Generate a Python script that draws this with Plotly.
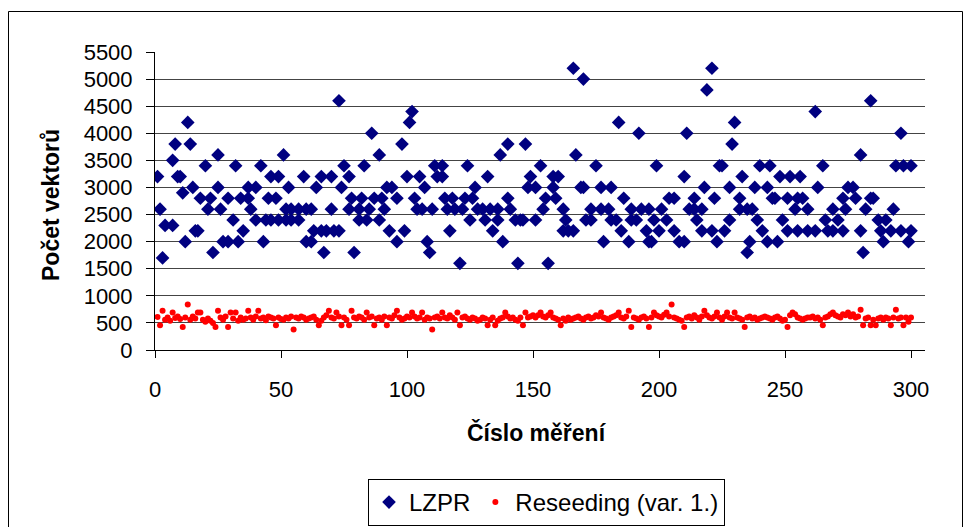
import plotly.graph_objects as go

# ---- data ----
lzpr_x = [1, 2, 3, 4, 7, 8, 7, 9, 10, 11, 12, 13, 14, 15, 16, 17, 18, 20, 21, 22,
          23, 25, 25, 26, 27, 29, 29, 31, 32, 33, 34, 35, 37, 37, 38, 40, 40, 42, 43, 44,
          45, 46, 49, 51, 48, 53, 46, 49, 52, 54, 57, 60, 62, 52, 54, 57, 59, 60, 62, 63,
          66, 68, 71, 73, 64, 66, 70, 67, 70, 73, 74, 75, 77, 78, 77, 79, 82, 81, 85, 81,
          84, 83, 86, 87, 90, 91, 89, 89, 92, 94, 93, 96, 96, 98, 99, 100, 101, 102, 103, 104,
          106, 105, 107, 108, 109, 110, 111, 114, 112, 114, 115, 118, 116, 119, 122, 117, 121, 123, 126, 124,
          125, 127, 128, 130, 133, 136, 131, 132, 134, 136, 138, 137, 140, 140, 141, 143, 145, 144, 146, 147,
          149, 148, 151, 151, 153, 155, 154, 156, 158, 158, 160, 159, 162, 163, 162, 164, 166, 166, 170, 167,
          169, 170, 171, 173, 173, 177, 180, 175, 177, 181, 178, 181, 183, 185, 184, 186, 188, 189, 193, 189,
          191, 192, 195, 196, 196, 201, 197, 198, 200, 203, 199, 204, 206, 206, 208, 210, 210, 211, 212, 214,
          214, 217, 215, 217, 218, 219, 221, 221, 222, 223, 224, 225, 226, 228, 228, 229, 230, 232, 232, 235,
          237, 233, 236, 235, 238, 239, 241, 240, 244, 243, 243, 245, 247, 246, 248, 252, 256, 249, 251, 255,
          259, 262, 251, 255, 257, 254, 259, 262, 263, 265, 266, 267, 269, 271, 273, 269, 274, 273, 278, 275,
          277, 280, 280, 281, 282, 284, 284, 285, 287, 290, 288, 292, 289, 293, 296, 300, 299, 296, 294, 297,
          300]
lzpr_y = [3200, 2600, 1700, 2300, 2300, 3800, 3500, 3200, 3200, 2900, 2000, 4200, 3800, 3000, 2200, 2200, 2800, 3400, 2600, 2800,
          1800, 3000, 3600, 2600, 2000, 2000, 2800, 2400, 3400, 2000, 2800, 2200, 3000, 2800, 2600, 3000, 2400, 3400, 2000, 2400,
          2800, 3200, 3200, 3600, 2800, 3000, 2400, 2400, 2600, 2600, 2600, 2600, 2600, 2400, 2400, 2400, 3200, 2000, 2000, 2200,
          2200, 2200, 2200, 2200, 3000, 3200, 3200, 1800, 2600, 4600, 3000, 3400, 3200, 2800, 2600, 1800, 2800, 2600, 2600, 2400,
          2400, 3400, 4000, 2800, 2800, 2600, 2400, 3600, 3000, 3000, 2200, 2000, 2800, 3800, 2200, 3200, 4200, 4400, 2800, 2600,
          2600, 3200, 3000, 2000, 1800, 2600, 3400, 3400, 3200, 3200, 2800, 2800, 2600, 2600, 2600, 2200, 1600, 2800, 2800, 3400,
          2400, 3000, 2600, 2600, 2600, 2600, 2400, 3200, 2200, 2400, 2000, 3600, 3800, 2800, 2600, 2400, 2400, 1600, 2400, 3800,
          3200, 3000, 3000, 2400, 3400, 2800, 2600, 1600, 3000, 3200, 3200, 2800, 2600, 2400, 2200, 2200, 2200, 5200, 5000, 3600,
          3000, 3000, 2400, 2400, 2600, 2600, 2600, 3400, 3000, 3000, 2000, 2400, 2400, 2200, 4200, 2800, 2000, 2600, 2600, 2400,
          2400, 4000, 2200, 2000, 2600, 2600, 2000, 2400, 2200, 2400, 3400, 2800, 2800, 2200, 2000, 2000, 3200, 4000, 2600, 2800,
          2600, 2600, 2400, 2200, 3000, 4800, 5200, 2200, 2800, 2000, 3400, 3400, 2200, 2400, 3000, 3800, 4200, 2800, 2600, 2600,
          2600, 3200, 2000, 1800, 3000, 2400, 2200, 3400, 3400, 3000, 2000, 2800, 2000, 2800, 3200, 3200, 3200, 2400, 2200, 2200,
          2200, 2200, 2800, 2800, 2800, 2600, 2600, 4400, 3000, 3400, 2400, 2200, 2200, 2400, 2200, 2600, 2600, 2800, 2800, 3000,
          3000, 3600, 2200, 1800, 2600, 4600, 2800, 2800, 2400, 2400, 2200, 2200, 2000, 2600, 2200, 2200, 2000, 4000, 3400, 3400,
          3400]

reseed_x = list(range(1, 301))
reseed_y = [610, 455, 724, 560, 600, 540, 692, 590, 620, 570,
            423, 600, 840, 560, 620, 580, 692, 692, 560, 520,
            580, 540, 500, 423, 724, 600, 560, 620, 423, 692,
            580, 692, 540, 600, 560, 580, 724, 600, 560, 620,
            724, 580, 600, 550, 620, 600, 580, 455, 600, 570,
            560, 600, 580, 620, 380, 600, 580, 620, 600, 560,
            580, 600, 620, 560, 455, 540, 600, 640, 724, 600,
            580, 692, 620, 455, 600, 560, 455, 724, 600, 580,
            620, 600, 560, 692, 600, 620, 455, 580, 600, 560,
            620, 455, 600, 580, 640, 724, 600, 560, 580, 620,
            600, 692, 620, 580, 600, 692, 560, 600, 580, 380,
            600, 620, 580, 692, 600, 580, 640, 600, 560, 692,
            455, 600, 620, 580, 560, 600, 580, 540, 560, 600,
            580, 455, 560, 600, 455, 540, 580, 600, 692, 620,
            580, 600, 560, 540, 600, 455, 692, 600, 620, 640,
            600, 640, 692, 620, 600, 640, 692, 600, 580, 560,
            455, 580, 540, 600, 560, 580, 600, 620, 580, 560,
            600, 620, 580, 600, 640, 620, 692, 600, 580, 560,
            600, 620, 640, 692, 600, 580, 620, 724, 423, 600,
            580, 560, 600, 620, 580, 423, 600, 692, 640, 620,
            600, 650, 692, 620, 840, 600, 580, 560, 540, 423,
            600, 620, 580, 640, 600, 560, 620, 724, 640, 600,
            580, 620, 692, 600, 560, 620, 692, 600, 580, 692,
            600, 580, 560, 423, 600, 620, 580, 600, 560, 580,
            600, 620, 600, 580, 560, 600, 620, 580, 540, 560,
            423, 640, 692, 660, 600, 580, 560, 580, 600, 600,
            620, 580, 600, 560, 455, 600, 620, 660, 692, 640,
            620, 600, 660, 640, 692, 620, 660, 600, 620, 744,
            455, 580, 600, 455, 560, 455, 580, 600, 560, 600,
            580, 455, 600, 744, 580, 600, 455, 600, 520, 600]

x_ticks = [0, 50, 100, 150, 200, 250, 300]
y_ticks = [0, 500, 1000, 1500, 2000, 2500, 3000, 3500, 4000, 4500, 5000, 5500]

# ---- layout geometry (pixels) ----
W, H = 969, 527
L, R, T, B = 155, 925, 52, 350
X0PX, X300PX = 155, 911
x_max = 300 * (R - L) / (X300PX - X0PX)

def px_x(p):
    return (p - L) / (R - L)

def px_y(p):
    return (B - p) / (B - T)

FONT = "Liberation Sans, Arial, sans-serif"

fig = go.Figure()
fig.add_trace(go.Scatter(
    x=lzpr_x, y=lzpr_y, mode="markers", name="LZPR",
    marker=dict(symbol="diamond", size=10.5, color="#000080", line=dict(width=0)),
))
fig.add_trace(go.Scatter(
    x=reseed_x, y=reseed_y, mode="markers", name="Reseeding (var. 1.)",
    marker=dict(symbol="circle", size=6, color="#FF0000", line=dict(width=0)),
))

fig.update_layout(
    width=W, height=H,
    margin=dict(l=L, r=W - R, t=T, b=H - B, pad=0, autoexpand=False),
    paper_bgcolor="white", plot_bgcolor="white",
    font=dict(family=FONT, color="black", size=20),
    showlegend=True,
    legend=dict(
        orientation="h", x=px_x(368), y=px_y(479), xanchor="left", yanchor="top",
        bordercolor="black", borderwidth=1, bgcolor="white",
        font=dict(family=FONT, size=24, color="black"),
        itemwidth=30, tracegroupgap=0,
    ),
    xaxis=dict(
        range=[0, x_max], tickvals=x_ticks, ticktext=[str(v) for v in x_ticks],
        showgrid=False, zeroline=False,
        showline=True, linecolor="black", linewidth=1,
        ticks="outside", ticklen=7, tickcolor="black", tickwidth=1,
        tickfont=dict(family=FONT, size=22, color="black"),
        ticklabelstandoff=13,
    ),
    yaxis=dict(
        range=[0, 5500], tickvals=y_ticks, ticktext=[str(v) for v in y_ticks],
        showgrid=True, gridcolor="#444444", gridwidth=1, zeroline=False,
        showline=True, linecolor="black", linewidth=1,
        ticks="outside", ticklen=8, tickcolor="black", tickwidth=1,
        tickfont=dict(family=FONT, size=22, color="black"),
        ticklabelstandoff=9,
    ),
    annotations=[
        dict(text="<b>Počet vektorů</b>", xref="paper", yref="paper",
             x=px_x(51), y=px_y(205), textangle=-90, showarrow=False,
             xanchor="center", yanchor="middle",
             font=dict(family=FONT, size=23, color="black")),
        dict(text="<b>Číslo měření</b>", xref="paper", yref="paper",
             x=px_x(537), y=px_y(432), showarrow=False,
             xanchor="center", yanchor="middle",
             font=dict(family=FONT, size=23, color="black")),
    ],
    shapes=[
        dict(type="rect", xref="paper", yref="paper", layer="below",
             x0=px_x(8.5), x1=px_x(962.5), y0=px_y(540), y1=px_y(11.5),
             line=dict(color="black", width=1), fillcolor="rgba(0,0,0,0)"),
    ],
)

fig.write_html("out.html")
